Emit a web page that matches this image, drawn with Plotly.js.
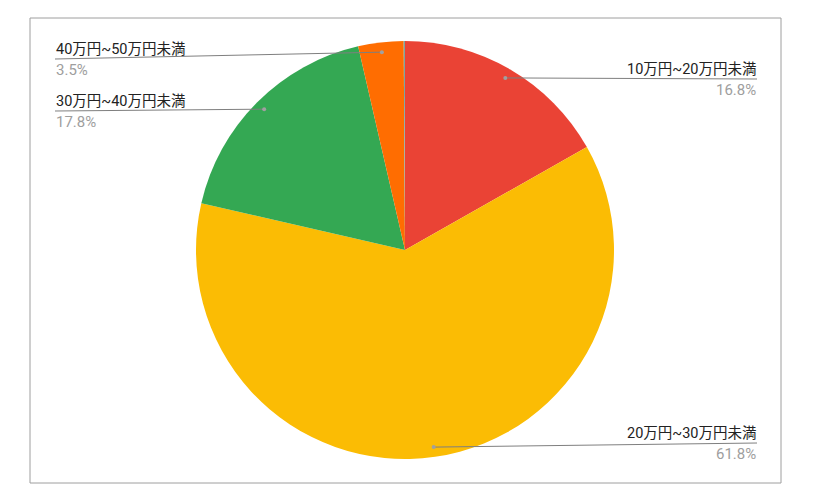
<!DOCTYPE html>
<html>
<head>
<meta charset="utf-8">
<script src="https://cdn.plot.ly/plotly-3.0.1.min.js"></script>
<style>html,body{margin:0;padding:0;background:#fff}#chart{width:814px;height:499px}</style>
</head>
<body>
<div id="chart"></div>
<script>
// slices, clockwise from 12 o'clock
const labels = ['10万円~20万円未満', '20万円~30万円未満', '30万円~40万円未満', '40万円~50万円未満', '50万円以上'];
const values = [16.8, 61.8, 17.8, 3.5, 0.1];
const colors = ['#ea4335', '#fbbc04', '#34a853', '#ff6d01', '#7aa7a3'];
const shown = [true, true, true, true, false];

(function(){
  const W = 814, H = 499;
  const cx = 405, cy = 250, r = 209;
  // where each label sits: side and y of its underline (px)
  const labelPos = [
    { side: 'right', y: 79 },
    { side: 'right', y: 443 },
    { side: 'left',  y: 111 },
    { side: 'left',  y: 59 },
    null
  ];
  const leftX = 55, rightX = 757;
  const font = 'Roboto, "Noto Sans CJK JP", sans-serif';
  const px = x => x / W, py = y => 1 - y / H;

  const total = values.reduce((a, b) => a + b, 0);
  const shapes = [{ type:'rect', xref:'paper', yref:'paper', x0:px(30), x1:px(781), y0:py(18), y1:py(483), line:{ color:'#9e9e9e', width:1 } }];
  const annotations = [];
  let acc = 0;
  values.forEach((v, i) => {
    const mid = (acc + v / 2) / total * 2 * Math.PI;
    acc += v;
    if (!shown[i]) return;
    const dx = cx + 0.953 * r * Math.sin(mid), dy = cy - 0.953 * r * Math.cos(mid);
    const lp = labelPos[i];
    const ex = lp.side === 'right' ? rightX : leftX;
    shapes.push({ type:'line', xref:'paper', yref:'paper', x0:px(dx), y0:py(dy), x1:px(ex), y1:py(lp.y), line:{ color:'#7f7f7f', width:1 } });
    shapes.push({ type:'circle', xref:'paper', yref:'paper', x0:px(dx-2), x1:px(dx+2), y0:py(dy-2), y1:py(dy+2), fillcolor:'#a0a0a0', line:{ width:0 } });
    const xa = lp.side === 'right' ? 'right' : 'left';
    annotations.push({ xref:'paper', yref:'paper', x:px(ex), y:py(lp.y), xanchor:xa, yanchor:'bottom', showarrow:false, text:labels[i], font:{ family:font, size:14.5, color:'#222222' }, borderpad:0 });
    annotations.push({ xref:'paper', yref:'paper', x:px(ex), y:py(lp.y + 1), xanchor:xa, yanchor:'top', showarrow:false, text:(Math.round(v / total * 1000) / 10).toFixed(1) + '%', font:{ family:font, size:15, color:'#9e9e9e' }, borderpad:0 });
  });

  const trace = {
    type:'pie', labels, values, sort:false, direction:'clockwise', rotation:0,
    marker:{ colors, line:{ width:0 } }, textinfo:'none', hoverinfo:'label+percent',
    domain:{ x:[(cx - r) / W, (cx + r) / W], y:[(H - cy - r) / H, (H - cy + r) / H] }
  };
  const layout = { width:W, height:H, margin:{ l:0, r:0, t:0, b:0 }, showlegend:false, paper_bgcolor:'#fff', shapes, annotations, font:{ family:font } };
  Plotly.newPlot('chart', [trace], layout, { displayModeBar:false, staticPlot:true });
})();
</script>
</body>
</html>
